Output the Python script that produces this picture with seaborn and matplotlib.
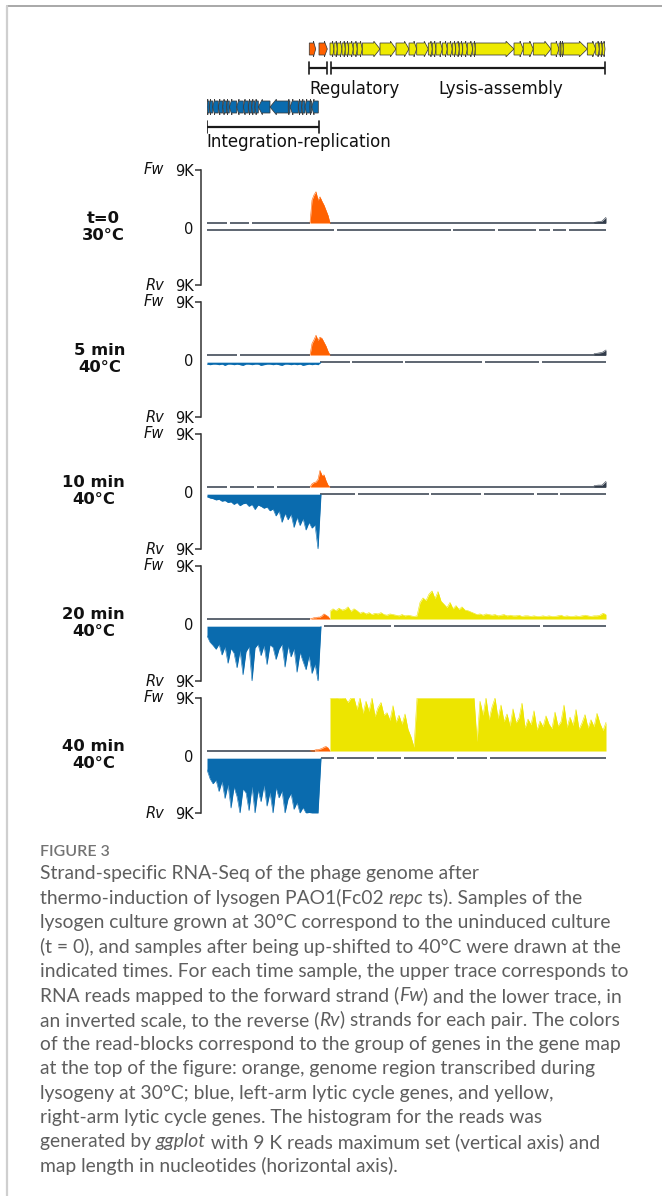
import numpy as np
import matplotlib
matplotlib.use("Agg")
import matplotlib.pyplot as plt
from matplotlib.patches import Polygon
import seaborn as sns

# ------------------------------------------------------------------ data
GENOME_LEN = 40000
SAMPLES = ["t=0\n30°C", "5 min\n40°C", "10 min\n40°C", "20 min\n40°C", "40 min\n40°C"]
YMAX = 9000
Y_TICKS = [9000, 0, -9000]
Y_TICK_LABELS = ["9K", "0", "9K"]

# gene map (nt)
ORANGE_GENES = [(10230, 10870), (11200, 12030)]
YELLOW_GENES = [(12300, 12700), (12700, 13030), (13030, 13500), (13500, 13830), (13830, 14170),
                (14170, 14630), (14630, 15030), (15030, 15530), (15530, 17300), (17300, 18900),
                (18900, 20200), (20200, 20970), (20970, 22130), (22130, 22530), (22530, 22900),
                (22900, 23530), (23530, 24030), (24030, 24530), (24530, 24870), (24870, 25230),
                (25230, 25570), (25570, 26030), (26030, 26570), (26570, 26830), (26830, 30700),
                (30700, 31630), (31630, 32630), (32630, 34400), (34400, 35200), (35200, 35400),
                (35400, 35630), (35630, 38030), (38030, 38870), (38870, 39230), (39230, 39530),
                (39530, 39800)]
BLUE_GENES = [(0, 230), (230, 570), (570, 1130), (1130, 1570), (1570, 1970), (1970, 2230),
              (2230, 2970), (2970, 3630), (3630, 4130), (4130, 4470), (4470, 4800), (4800, 5130),
              (5130, 6300), (6300, 8130), (8130, 8300), (8300, 9130), (9130, 9470), (9470, 9800),
              (9800, 10300), (10300, 10470), (10470, 11130)]
REGION_NAMES = ["Regulatory", "Lysis-assembly", "Integration-replication"]
REGION_SPANS = [(10230, 12030), (12400, 39800), (0, 11200)]

# coverage bins (K reads)
BLUE_X0, BLUE_STEP = 0, 300
ORANGE_X0, ORANGE_STEP = 10300, 200
YELLOW_X0, YELLOW_STEP = 12300, 300
TAIL_X0, TAIL_STEP = 38700, 400

orange_fw_t0 = [0.0, 3.6, 4.4, 4.9, 3.6, 4.1, 3.4, 2.8, 2.0, 1.2, 0.0]
orange_fw_5 = [0.0, 1.8, 2.4, 3.1, 2.3, 2.8, 2.6, 2.0, 1.4, 0.6, 0.0]
orange_fw_10 = [0.0, 0.5, 0.7, 0.8, 1.2, 2.6, 1.8, 1.9, 1.0, 0.3, 0.0]
orange_fw_20 = [0.0, 0.1, 0.2, 0.2, 0.3, 0.3, 0.5, 0.8, 0.6, 0.4, 0.0]
orange_fw_40 = [0.0, 0.1, 0.1, 0.2, 0.2, 0.3, 0.4, 0.6, 0.7, 0.5, 0.0]

blue_rv_5 = [0.3, 0.4, 0.3, 0.3, 0.4, 0.3, 0.5, 0.3, 0.3, 0.4, 0.3, 0.4, 0.5, 0.3, 0.3, 0.4,
             0.3, 0.3, 0.5, 0.4, 0.3, 0.3, 0.4, 0.3, 0.4, 0.5, 0.3, 0.3, 0.4, 0.3, 0.4, 0.3,
             0.5, 0.4, 0.3, 0.4, 0.3, 0.4, 0.0]
blue_rv_10 = [0.4, 0.6, 0.7, 0.9, 0.8, 1.1, 1.0, 1.3, 1.2, 1.6, 1.3, 1.8, 1.5, 1.4, 1.9, 1.6,
              2.4, 1.7, 1.9, 2.2, 2.0, 2.6, 2.3, 3.4, 2.6, 4.4, 3.0, 4.0, 3.1, 5.2, 3.6, 4.9,
              3.8, 5.6, 4.4, 5.3, 4.8, 9.0, 0.0]
blue_rv_20 = [1.5, 2.5, 3.0, 3.6, 2.8, 4.5, 3.2, 5.8, 3.5, 4.2, 6.5, 3.8, 7.6, 4.0, 3.2, 8.6,
              3.4, 2.8, 4.6, 3.0, 6.0, 2.9, 3.3, 5.2, 3.6, 2.8, 6.4, 3.1, 4.8, 3.5, 7.2, 4.1,
              5.5, 6.8, 4.6, 7.4, 5.9, 8.8, 0.0]
blue_rv_40 = [1.8, 3.2, 4.0, 3.4, 5.2, 3.6, 6.3, 4.1, 7.8, 4.5, 6.0, 9.0, 4.8, 5.4, 8.2, 4.4,
              9.0, 5.0, 6.8, 4.2, 7.5, 5.3, 9.0, 4.6, 6.2, 5.1, 9.0, 6.4, 5.5, 8.0, 6.9, 9.0,
              7.7, 9.0, 8.5, 9.0, 9.0, 9.0, 0.0]

yellow_fw_20 = [1.2, 1.6, 1.3, 1.7, 1.4, 1.5, 1.9, 1.2, 1.6, 1.3,
                0.9, 1.1, 0.8, 1.0, 0.7, 0.9, 0.8, 1.0, 0.7, 0.6, 0.8, 0.7, 0.6, 0.5, 0.7,
                0.5, 0.6, 0.5, 0.4, 0.5,
                2.6, 3.3, 2.9, 3.9, 4.4, 3.2, 4.3, 2.8,
                2.3, 1.8, 2.6, 1.6, 2.1, 1.5, 1.9, 1.4, 1.3, 1.1,
                0.9, 0.7, 0.8, 0.6, 0.8, 0.7, 0.6, 0.7, 0.5, 0.6, 0.7, 0.5, 0.6, 0.5, 0.5,
                0.6, 0.4, 0.5, 0.5, 0.4, 0.5, 0.4, 0.4, 0.5, 0.4, 0.5, 0.4, 0.4, 0.5, 0.6,
                0.4, 0.5, 0.4, 0.4, 0.5, 0.4, 0.5, 0.6, 0.5, 0.4, 0.5, 0.5, 0.6, 0.9, 0.7]
yellow_fw_40 = [9.0, 9.0, 9.0, 8.2, 9.0, 9.0, 7.6, 9.0, 8.4,
                6.5, 8.8, 5.9, 7.8, 6.2, 8.9, 5.4, 6.8, 7.6, 5.6,
                6.0, 4.8, 7.1, 4.5, 5.6, 4.2, 5.8, 3.4, 2.2, 0.6,
                9.0, 9.0, 9.0, 9.0, 9.0, 9.0, 9.0, 9.0, 9.0, 9.0,
                9.0, 9.0, 9.0, 9.0, 9.0, 9.0, 9.0, 9.0, 9.0, 9.0,
                1.5, 7.8, 5.6, 8.4, 4.9, 6.9, 9.0, 5.1, 7.2, 4.6,
                5.8, 3.9, 6.6, 4.4, 5.2, 7.5, 3.6, 5.0, 4.1, 6.3, 3.3, 4.7, 3.8, 5.5, 4.2,
                3.5, 6.1, 3.9, 4.6, 7.2, 3.7, 5.3, 4.0, 6.5, 3.4, 4.4, 5.7, 3.6, 4.9, 3.8,
                5.9, 4.3, 3.2, 4.5]

dark_tail_t0 = [0.1, 0.2, 0.3, 0.9]
dark_tail_5 = [0.2, 0.3, 0.4, 0.8]
dark_tail_10 = [0.2, 0.3, 0.3, 0.9]

# low-coverage (dark) read blocks per strand
dark_fw_t0 = [(0, 2000), (2300, 4200), (4500, 10300), (12300, 39900)]
dark_rv_t0 = [(0, 12700), (13000, 24400), (24600, 28800), (29100, 32900), (33200, 34300),
              (34600, 35900), (36200, 39900)]
dark_fw_5 = [(0, 3000), (3300, 10300), (12300, 39900)]
dark_rv_5 = [(11300, 14300), (14500, 19600), (19800, 27500), (27800, 33200), (33500, 39900)]
dark_fw_10 = [(0, 2000), (2300, 4700), (5000, 6700), (7000, 10300), (12300, 39900)]
dark_rv_10 = [(11300, 14800), (15100, 22200), (22400, 27400), (27700, 32700), (33000, 35100),
              (35300, 39900)]
dark_fw_20 = [(0, 10300)]
dark_rv_20 = [(11700, 18400), (18700, 33300), (33600, 39900)]
dark_fw_40 = [(0, 10800)]
dark_rv_40 = [(11400, 12700), (13000, 16700), (17000, 19400), (19700, 24700), (25000, 28000),
              (28300, 39900)]

CAPTION_TITLE = "FIGURE 3"
CAPTION_LINES = [
    [("Strand-specific RNA-Seq of the phage genome after", "normal")],
    [("thermo-induction of lysogen PAO1(Fc02 ", "normal"), ("repc", "italic"), (" ts). Samples of the", "normal")],
    [("lysogen culture grown at 30°C correspond to the uninduced culture", "normal")],
    [("(t = 0), and samples after being up-shifted to 40°C were drawn at the", "normal")],
    [("indicated times. For each time sample, the upper trace corresponds to", "normal")],
    [("RNA reads mapped to the forward strand (", "normal"), ("Fw", "italic"), (") and the lower trace, in", "normal")],
    [("an inverted scale, to the reverse (", "normal"), ("Rv", "italic"), (") strands for each pair. The colors", "normal")],
    [("of the read-blocks correspond to the group of genes in the gene map", "normal")],
    [("at the top of the figure: orange, genome region transcribed during", "normal")],
    [("lysogeny at 30°C; blue, left-arm lytic cycle genes, and yellow,", "normal")],
    [("right-arm lytic cycle genes. The histogram for the reads was", "normal")],
    [("generated by ", "normal"), ("ggplot", "italic"), (" with 9 K reads maximum set (vertical axis) and", "normal")],
    [("map length in nucleotides (horizontal axis).", "normal")],
]

# ------------------------------------------------------------------ style
sns.set_theme(style="white")
plt.rcParams["font.family"] = ["DejaVu Sans"]

ORANGE = "#FF6100"
BLUE = "#0A6BAE"
YELLOW = "#EDE500"
GENE_YELLOW = "#EEEA00"
DARK = "#323c4a"
W, H = 662, 1196
GAP_FW = 700
GAP_RV = 420

fig = plt.figure(figsize=(W / 100, H / 100), dpi=100)
fig.patch.set_facecolor("white")


def fx(px):
    return px / W


def fy(py):
    return 1 - py / H


# frame lines
fig.add_artist(plt.Line2D([fx(7), fx(662)], [fy(6), fy(6)], color="#a8a8a8", lw=1.4))
fig.add_artist(plt.Line2D([fx(7), fx(7)], [fy(6), fy(1196)], color="#cfcfcf", lw=1.6))

# ------------------------------------------------------------------ gene map
gax = fig.add_axes([fx(207), fy(150), fx(607) - fx(207), (150 - 30) / H])
gax.set_xlim(0, GENOME_LEN)
gax.set_ylim(150, 30)
gax.axis("off")


def gene_poly(s, e, yc, strand, color):
    L = e - s
    h = min(800, 0.35 * L)
    bh, hh = 6.0, 7.8
    if strand > 0:
        pts = [(s, yc - bh), (e - h, yc - bh), (e - h, yc - hh), (e, yc), (e - h, yc + hh),
               (e - h, yc + bh), (s, yc + bh)]
    else:
        pts = [(e, yc - bh), (s + h, yc - bh), (s + h, yc - hh), (s, yc), (s + h, yc + hh),
               (s + h, yc + bh), (e, yc + bh)]
    gax.add_patch(Polygon(pts, closed=True, facecolor=color, edgecolor="#3a3a3a", lw=0.55))


for s, e in ORANGE_GENES:
    gene_poly(s, e, 49, 1, ORANGE)
for s, e in YELLOW_GENES:
    gene_poly(s, e, 49, 1, GENE_YELLOW)
for s, e in BLUE_GENES:
    gene_poly(s, e, 107, -1, BLUE)

bracket_y = [68, 68, 127]
label_y = [89, 89, 142]
label_x = [REGION_SPANS[0][0], 23100, REGION_SPANS[2][0] - 100]
for name, (s, e), by, ly, lx in zip(REGION_NAMES, REGION_SPANS, bracket_y, label_y, label_x):
    gax.plot([s, e], [by, by], color="#1a1a1a", lw=1.6, solid_capstyle="butt")
    gax.plot([s, s], [by - 6, by + 6], color="#1a1a1a", lw=1.2)
    gax.plot([e, e], [by - 6, by + 6], color="#1a1a1a", lw=1.2)
    gax.text(lx, ly, name, fontsize=12, ha="left", va="center", color="#111111")

# ------------------------------------------------------------------ tracks
orange_fw = [orange_fw_t0, orange_fw_5, orange_fw_10, orange_fw_20, orange_fw_40]
blue_rv = [None, blue_rv_5, blue_rv_10, blue_rv_20, blue_rv_40]
yellow_fw = [None, None, None, yellow_fw_20, yellow_fw_40]
dark_tails = [dark_tail_t0, dark_tail_5, dark_tail_10, None, None]
dark_fw = [dark_fw_t0, dark_fw_5, dark_fw_10, dark_fw_20, dark_fw_40]
dark_rv = [dark_rv_t0, dark_rv_5, dark_rv_10, dark_rv_20, dark_rv_40]


def fill_cov(ax, x0, step, vals, color, sign):
    v = np.asarray(vals, dtype=float) * 1000
    x = x0 + step * np.arange(len(v))
    base = GAP_FW if sign > 0 else GAP_RV
    top = np.minimum(base + v, YMAX)
    ax.fill_between(x, sign * base, sign * top, color=color, lw=0, zorder=3)
    sns.lineplot(x=x, y=sign * top, ax=ax, color=color, lw=0.4, zorder=3, legend=False)


for k, label in enumerate(SAMPLES):
    top_px = 170 + 132 * k
    bot_px = top_px + 115
    ax = fig.add_axes([fx(207), fy(bot_px), fx(607) - fx(207), (bot_px - top_px) / H])
    ax.set_facecolor("none")
    ax.set_xlim(0, GENOME_LEN)
    ax.set_ylim(-YMAX, YMAX)
    for sp in ["top", "right", "bottom"]:
        ax.spines[sp].set_visible(False)
    ax.spines["left"].set_position(("outward", 4.3))
    ax.spines["left"].set_color("#333333")
    ax.spines["left"].set_linewidth(1.1)
    ax.set_xticks([])
    ax.set_yticks(Y_TICKS)
    ax.set_yticklabels(Y_TICK_LABELS)
    ax.tick_params(axis="y", direction="out", length=4, width=1.1, color="#333333",
                   labelsize=10.5, pad=1.5, labelcolor="#111111", left=True)
    ax.yaxis.get_major_ticks()[1].tick1line.set_visible(False)
    ax.grid(False)

    for s, e in dark_fw[k]:
        ax.hlines(GAP_FW, s, e, color=DARK, lw=1.1, zorder=2)
    for s, e in dark_rv[k]:
        ax.hlines(-GAP_RV, s, e, color=DARK, lw=1.1, zorder=2)
    if dark_tails[k] is not None:
        fill_cov(ax, TAIL_X0, TAIL_STEP, dark_tails[k], DARK, 1)
    fill_cov(ax, ORANGE_X0, ORANGE_STEP, orange_fw[k], ORANGE, 1)
    if yellow_fw[k] is not None:
        fill_cov(ax, YELLOW_X0, YELLOW_STEP, yellow_fw[k], YELLOW, 1)
    if blue_rv[k] is not None:
        fill_cov(ax, BLUE_X0, BLUE_STEP, blue_rv[k], BLUE, -1)

    fig.text(fx(164), fy(top_px), "Fw", style="italic", fontsize=10.5, ha="right", va="center",
             color="#111111")
    fig.text(fx(164), fy(bot_px), "Rv", style="italic", fontsize=10.5, ha="right", va="center",
             color="#111111")
    fig.text(fx(125), fy(top_px + 57), label, fontsize=11.8, fontweight="bold", ha="right",
             va="center", multialignment="center", color="#111111")

# ------------------------------------------------------------------ caption
CAP_FONT = ["Lato", "DejaVu Sans"]
fig.text(fx(40), fy(852), CAPTION_TITLE, fontsize=11.5, fontweight="semibold", color="#737373",
         family=CAP_FONT, va="center", ha="left")

renderer = fig.canvas.get_renderer()
CAP_SIZE = 13.9
CAP_WEIGHT = "normal"


def seg_width(txt, style):
    a = fig.text(0, 0, txt + "|", style=style, fontsize=CAP_SIZE, family=CAP_FONT,
                 fontweight=CAP_WEIGHT)
    b = fig.text(0, 0, "|", style=style, fontsize=CAP_SIZE, family=CAP_FONT,
                 fontweight=CAP_WEIGHT)
    w = a.get_window_extent(renderer).width - b.get_window_extent(renderer).width
    a.remove()
    b.remove()
    return w


for i, segs in enumerate(CAPTION_LINES):
    y = 874 + 24.35 * i
    x = 40.0
    for txt, style in segs:
        fig.text(fx(x), fy(y), txt, style=style, fontsize=CAP_SIZE, family=CAP_FONT,
                 fontweight=CAP_WEIGHT, color="#5e5e5e", va="center", ha="left")
        x += seg_width(txt, style)

fig.savefig("out.png", dpi=100, facecolor="white")
